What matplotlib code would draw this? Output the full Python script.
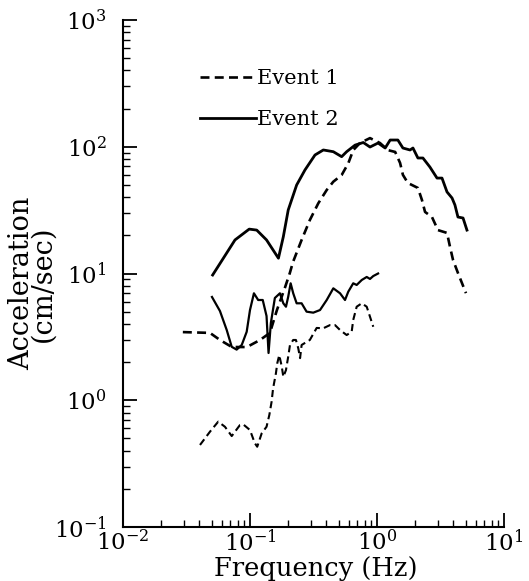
import numpy as np
import matplotlib
matplotlib.use("Agg")
import matplotlib.pyplot as plt

# Event 1 (dashed) - upper spectrum
ev1a_f = [0.0296, 0.0484, 0.058, 0.072, 0.0946, 0.120, 0.1435, 0.163, 0.189, 0.206,
          0.218, 0.255, 0.296, 0.345, 0.402, 0.453, 0.527, 0.594, 0.650, 0.734,
          0.881, 1.056, 1.22, 1.39, 1.52, 1.60, 1.75, 2.10, 2.26, 2.39,
          2.71, 3.02, 3.56, 3.76, 3.97, 4.34, 4.67, 5.02]
ev1a_a = [3.45, 3.40, 2.99, 2.63, 2.63, 2.99, 3.40, 5.15, 7.8, 10.1,
          12.3, 18.4, 26.4, 35.8, 45.6, 53.0, 59.8, 74.0, 94.0, 107,
          117, 107, 94, 91, 74.5, 60, 51.8, 47.3, 38, 30.6,
          27.9, 22.0, 20.9, 16.2, 12.8, 10.1, 8.4, 7.0]

# Event 1 (dashed) - lower spectrum
ev1b_f = [0.0404, 0.0484, 0.0562, 0.0635, 0.0718, 0.0834, 0.0885, 0.100, 0.109, 0.114,
          0.1236, 0.135, 0.142, 0.148, 0.152, 0.160, 0.164, 0.170, 0.178, 0.183,
          0.192, 0.200, 0.2065, 0.219, 0.230, 0.240, 0.248, 0.255, 0.296, 0.335,
          0.378, 0.427, 0.467, 0.512, 0.577, 0.632, 0.650, 0.692, 0.759, 0.830,
          0.881, 0.935]
ev1b_a = [0.444, 0.565, 0.678, 0.618, 0.522, 0.638, 0.645, 0.582, 0.460, 0.430,
          0.548, 0.618, 0.765, 0.975, 1.24, 1.63, 1.96, 2.27, 1.84, 1.53,
          1.73, 2.21, 2.73, 2.99, 2.99, 2.57, 2.15, 2.73, 2.99, 3.72,
          3.70, 3.92, 3.92, 3.58, 3.27, 3.47, 4.30, 5.47, 5.82, 5.47,
          4.56, 3.80]

# Event 2 (solid) - upper spectrum
ev2a_f = [0.0508, 0.0617, 0.0762, 0.0986, 0.113, 0.135, 0.1675, 0.183, 0.200, 0.233,
          0.271, 0.325, 0.378, 0.453, 0.527, 0.577, 0.672, 0.780, 0.881, 1.02,
          1.16, 1.27, 1.46, 1.60, 1.82, 1.92, 2.10, 2.30, 2.61, 2.97,
          3.25, 3.56, 3.90, 4.11, 4.34, 4.76, 5.11]
ev2a_a = [9.73, 13.2, 18.4, 22.4, 22.0, 18.4, 13.2, 19.5, 31.7, 49.9,
          65.6, 86.1, 94.3, 91.4, 83.5, 91.4, 103, 108, 99.5, 107,
          97.7, 113, 113, 97.7, 94.3, 97.7, 81.5, 81.5, 69.2, 56.6,
          56.6, 44.0, 39.4, 34.7, 27.9, 27.4, 22.0]

# Event 2 (solid) - lower spectrum
ev2b_f = [0.0502, 0.058, 0.0656, 0.0718, 0.0785, 0.0861, 0.0942, 0.100, 0.1074, 0.116,
          0.126, 0.135, 0.140, 0.146, 0.157, 0.172, 0.183, 0.192, 0.200, 0.209,
          0.219, 0.233, 0.255, 0.279, 0.315, 0.356, 0.402, 0.453, 0.512, 0.560,
          0.594, 0.650, 0.692, 0.759, 0.830, 0.881, 0.935, 1.02]
ev2b_a = [6.53, 5.06, 3.58, 2.64, 2.51, 2.73, 3.47, 5.15, 6.98, 6.18,
          6.18, 4.62, 2.36, 4.07, 6.41, 6.98, 5.82, 5.47, 6.56, 8.37,
          6.98, 5.82, 5.82, 5.00, 4.91, 5.15, 6.18, 7.64, 6.98, 6.18,
          7.18, 8.37, 8.12, 8.89, 9.39, 9.06, 9.55, 10.0]

plt.rcParams['font.family'] = ['DejaVu Serif']
plt.rcParams['mathtext.fontset'] = 'dejavusans'

fig = plt.figure(figsize=(5.29, 5.81), dpi=100)
ax = fig.add_axes([0.2325, 0.0929, 0.7202, 0.8727])

dash = (0, (3.4, 2.0))
ax.plot(ev1a_f, ev1a_a, color='black', lw=1.9, linestyle=dash, label='Event 1')
ax.plot(ev1b_f, ev1b_a, color='black', lw=1.5, linestyle=dash)
ax.plot(ev2a_f, ev2a_a, color='black', lw=2.0, label='Event 2')
ax.plot(ev2b_f, ev2b_a, color='black', lw=1.6)

ax.set_xscale('log')
ax.set_yscale('log')
ax.set_xlim(1e-2, 1e1)
ax.set_ylim(1e-1, 1e3)

for s in ['top', 'right']:
    ax.spines[s].set_visible(False)
for s in ['left', 'bottom']:
    ax.spines[s].set_linewidth(1.5)

ax.tick_params(axis='both', which='major', direction='in', length=10, width=1.3,
               labelsize=16.5)
ax.tick_params(axis='both', which='minor', direction='in', length=5, width=1.0)
ax.tick_params(axis='y', which='major', pad=12)
ax.tick_params(axis='x', which='major', pad=2)

ax.set_xlabel('Frequency (Hz)', fontsize=18.5, va='bottom')
ax.xaxis.set_label_coords(0.5066, -0.106)
ax.set_ylabel('Acceleration\n(cm/sec)', fontsize=19.5, linespacing=0.72)
ax.yaxis.set_label_coords(-0.175, 0.48)

ax.legend(loc='upper left', bbox_to_anchor=(0.18, 0.92), frameon=False,
          fontsize=15, handlelength=2.7, handletextpad=0.05, labelspacing=1.08,
          borderaxespad=0)

fig.savefig('out.png', dpi=100)
